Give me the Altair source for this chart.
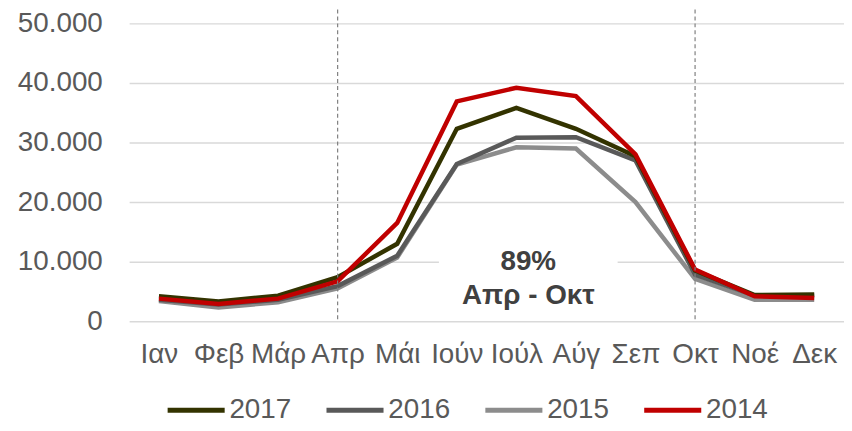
import altair as alt
import pandas as pd

months = ["Ιαν", "Φεβ", "Μάρ", "Απρ", "Μάι", "Ιούν", "Ιούλ", "Αύγ", "Σεπ", "Οκτ", "Νοέ", "Δεκ"]
years = ["2017", "2016", "2015", "2014"]
v2017 = [4200, 3300, 4300, 7400, 13000, 32300, 35800, 32300, 27700, 8500, 4400, 4500]
v2016 = [3600, 2800, 3600, 5900, 11000, 26400, 30800, 30900, 27000, 7800, 4300, 4300]
v2015 = [3400, 2300, 3200, 5500, 10700, 26300, 29200, 29000, 20000, 7100, 3600, 3600]
v2014 = [3800, 2900, 3800, 6700, 16500, 36900, 39200, 37800, 28000, 8700, 4200, 3900]
colors = ["#333300", "#595959", "#8c8c8c", "#c00000"]
marker_months = ["Απρ", "Οκτ"]
note_lines = ["89%", "Απρ - Οκτ"]
note_y = [10000, 4300]

rows = []
for yr, vals in zip(years, [v2017, v2016, v2015, v2014]):
    for m, v in zip(months, vals):
        rows.append({"month": m, "year": yr, "value": v})
df = pd.DataFrame(rows)

FONT = "Liberation Sans"
FS = 28
xscale = alt.Scale(type="point", domain=months, padding=0.5)
yscale = alt.Scale(domain=[0, 50000])
cscale = alt.Scale(domain=years, range=colors)

xenc = alt.X("month:N", scale=xscale, sort=months,
             axis=alt.Axis(title=None, domain=False, ticks=False, grid=False,
                           labelFontSize=FS, labelColor="#595959", labelFont=FONT,
                           labelPadding=20, labelAngle=0, labelOverlap=False))
yenc = alt.Y("value:Q", scale=yscale,
             axis=alt.Axis(title=None, domain=False, ticks=False, values=[0, 10000, 20000, 30000, 40000, 50000],
                           labelExpr="replace(format(datum.value, ','), ',', '.')",
                           labelFontSize=FS, labelColor="#595959", labelFont=FONT,
                           labelPadding=27, gridColor="#d9d9d9", gridWidth=1.5))

rules = alt.Chart(pd.DataFrame({"month": marker_months})).mark_rule(
    color="#808080", strokeDash=[4, 3], strokeWidth=1.2
).encode(x=alt.X("month:N", scale=xscale, sort=months), y=alt.value(-14), y2=alt.value(300))

box = alt.Chart(pd.DataFrame({"y0": [400], "y1": [10500]})).mark_rect(color="white").encode(
    x=alt.value(312), x2=alt.value(492),
    y=alt.Y("y0:Q", scale=yscale), y2="y1:Q")

notes = alt.Chart(pd.DataFrame({"t": note_lines, "y": note_y})).mark_text(
    font=FONT, fontSize=FS, fontWeight="bold", color="#404040", align="center", baseline="middle"
).encode(x=alt.value(402), y=alt.Y("y:Q", scale=yscale), text="t:N")

legend = alt.Legend(title=None, orient="none", direction="horizontal", legendX=36, legendY=358,
                    symbolType="stroke", symbolSize=3300, symbolStrokeWidth=5,
                    labelFontSize=FS, labelColor="#595959", labelFont=FONT,
                    columnPadding=24, labelOffset=2)

layers = [box]
for i, yr in enumerate(["2015", "2016", "2017", "2014"]):
    layers.append(
        alt.Chart(df[df.year == yr]).mark_line(strokeWidth=4.5, strokeJoin="miter").encode(
            x=xenc, y=yenc,
            color=alt.Color("year:N", scale=cscale, sort=years,
                            legend=legend if yr == "2015" else None)
        )
    )
layers += [rules, notes]

chart = alt.layer(*layers).properties(
    width=720, height=300,
    autosize=alt.AutoSizeParams(type="none"),
    padding={"left": 122, "top": 14, "right": 0, "bottom": 101},
).configure_view(stroke=None).configure_legend(symbolStrokeColor=None)

chart.save("out.html", embed_options={"renderer": "svg", "actions": False})
